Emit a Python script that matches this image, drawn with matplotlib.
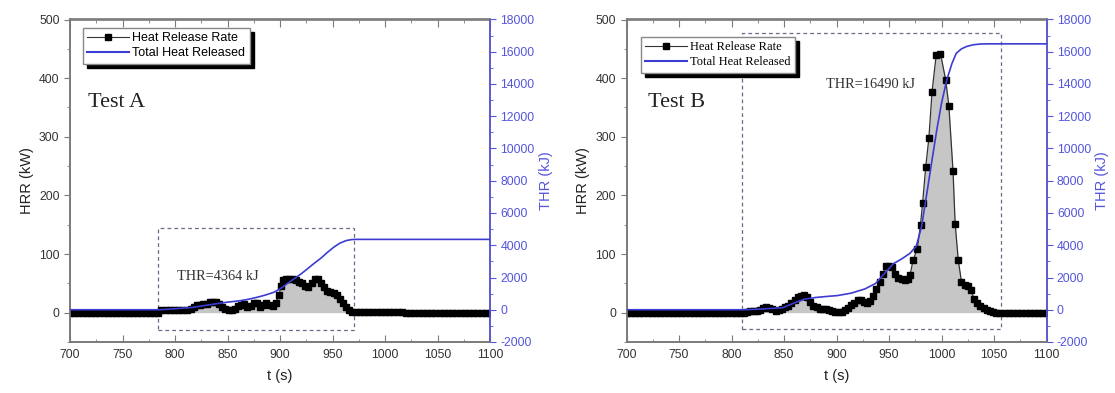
import matplotlib
matplotlib.use('Agg')
import matplotlib.pyplot as plt
from matplotlib.patches import Rectangle
from matplotlib.lines import Line2D
from matplotlib.ticker import MultipleLocator

plt.rcParams['font.family'] = ['Liberation Sans', 'DejaVu Sans']
plt.rcParams['axes.unicode_minus'] = False

# ---- Test A ----
tA = [700, 704, 708, 712, 716, 720, 724, 728, 732, 736, 740, 744, 748, 752, 756, 760,
      764, 768, 772, 776, 780, 784, 787, 791, 795, 799, 803, 807, 811, 815, 818, 821,
      824, 827, 830, 833, 836, 839, 842, 845, 848, 851, 854, 857, 860, 863, 866, 869,
      872, 875, 878, 881, 884, 887, 890, 893, 896, 899, 901, 903, 906, 909, 912, 915,
      918, 921, 924, 927, 930, 933, 936, 939, 942, 945, 948, 951, 954, 957, 960, 963,
      966, 969, 972, 976, 980, 984, 988, 992, 996, 1000, 1004, 1008, 1012, 1016, 1020,
      1024, 1028, 1032, 1036, 1040, 1044, 1048, 1052, 1056, 1060, 1064, 1068, 1072,
      1076, 1080, 1084, 1088, 1092, 1096, 1100]
hrrA = [0, 0, 0, 0, 0, 0, 0, 0, 0, 0, 0, 0, 0, 0, 0, 0,
        0, 0, 0, 0, 0, 0, 5, 5, 5, 4, 5, 5, 4, 6, 10, 13,
        13, 14, 15, 19, 18, 19, 14, 9, 6, 5, 4, 6, 11, 13, 14, 10,
        12, 16, 17, 10, 13, 16, 13, 12, 17, 30, 45, 55, 58, 58, 57, 56,
        53, 51, 46, 44, 50, 57, 57, 50, 43, 37, 35, 34, 30, 24, 16, 10,
        5, 1, 2, 2, 2, 2, 2, 2, 1, 1, 1, 1, 1, 1, 0,
        0, 0, 0, 0, 0, 0, 0, 0, 0, 0, 0, 0, 0,
        0, 0, 0, 0, 0, 0, 0]
thr_tA = [700, 785, 800, 817, 830, 840, 850, 862, 870, 878, 886, 894, 900, 906, 913,
          920, 926, 932, 939, 945, 951, 957, 963, 968, 972, 1100]
thrA = [0, 0, 60, 150, 280, 380, 470, 560, 650, 770, 910, 1080, 1290, 1580, 1900,
        2220, 2530, 2850, 3200, 3550, 3870, 4130, 4290, 4350, 4364, 4364]

# ---- Test B ----
tB = [700, 704, 708, 712, 716, 720, 724, 728, 732, 736, 740, 744, 748, 752, 756, 760,
      764, 768, 772, 776, 780, 784, 788, 792, 796, 800, 804, 808, 812, 815, 818, 821,
      824, 827, 830, 833, 836, 839, 842, 845, 848, 851, 854, 857, 860, 863, 866, 869,
      872, 875, 878, 881, 884, 887, 890, 893, 896, 899, 902, 905, 908, 911, 914, 917,
      920, 923, 926, 929, 932, 935, 938, 941, 944, 947, 950, 953, 956, 959, 962, 965,
      968, 970, 973, 977, 980, 982, 985, 988, 991, 995, 999, 1004, 1007, 1011, 1013,
      1016, 1019, 1022, 1025, 1028, 1031, 1034, 1037, 1040, 1043, 1046, 1049, 1052,
      1056, 1060, 1064, 1068, 1072, 1076, 1080, 1084, 1088, 1092, 1096, 1100]
hrrB = [0, 0, 0, 0, 0, 0, 0, 0, 0, 0, 0, 0, 0, 0, 0, 0,
        0, 0, 0, 0, 0, 0, 0, 0, 0, 0, 0, 0, 0, 2, 3, 3,
        3, 4, 8, 9, 8, 6, 3, 4, 6, 9, 12, 17, 22, 26, 29, 30,
        26, 19, 12, 9, 7, 7, 6, 5, 3, 2, 1, 2, 4, 8, 13, 17,
        21, 21, 18, 17, 20, 28, 40, 52, 66, 79, 80, 78, 66, 60, 58, 56,
        58, 64, 90, 109, 150, 187, 249, 298, 377, 440, 442, 397, 353, 241, 152,
        89, 53, 48, 45, 38, 24, 17, 12, 8, 5, 3, 1, 0,
        0, 0, 0, 0, 0, 0, 0, 0, 0, 0, 0, 0]
thr_tB = [700, 810, 820, 830, 840, 849, 859, 869, 880, 890, 901, 914, 927, 937, 945,
          954, 962, 970, 976, 981, 986, 991, 995.5, 1000, 1005, 1010, 1014, 1019,
          1024, 1030, 1037, 1045, 1100]
thrB = [0, 0, 20, 50, 90, 130, 400, 650, 760, 820, 880, 1030, 1290, 1620, 2200,
        2850, 3150, 3500, 3950, 5150, 7200, 9300, 11150, 12800, 14250, 15280, 15900, 16180,
        16330, 16430, 16480, 16490, 16490]

blue = '#3c3cd2'
axis_blue = '#5555dd'
spine_gray = '#7a7a7a'

fig = plt.figure(figsize=(11.15, 3.93), dpi=100)

panels = [
    dict(t=tA, hrr=hrrA, tt=thr_tA, thr=thrA, left=70 / 1115, name='Test A',
         note='THR=4364 kJ', note_xy=(802, 61), name_xy=(717, 358),
         box=(784, -29, 970.5 - 784, 144 + 29), leg_xy=(0.031, 0.974),
         leg_font='Liberation Sans', leg_size=9),
    dict(t=tB, hrr=hrrB, tt=thr_tB, thr=thrB, left=626.5 / 1115, name='Test B',
         note='THR=16490 kJ', note_xy=(890, 389), name_xy=(720, 358),
         box=(810, -28, 1057 - 810, 477 + 28), leg_xy=(0.0345, 0.946),
         leg_font='Liberation Serif', leg_size=9),
]

for p in panels:
    ax = fig.add_axes([p['left'], 1 - 342 / 393, 420 / 1115, 322.5 / 393])
    ax2 = ax.twinx()

    ax.fill_between(p['t'], p['hrr'], 0, color='#c6c6c6', lw=0, zorder=1)
    ax.plot(p['t'], p['hrr'], color='#333333', lw=0.9, marker='s', ms=4.3,
            mfc='black', mec='black', zorder=3)
    ax2.plot(p['tt'], p['thr'], color=blue, lw=1.2, zorder=4)

    bx, by, bw, bh = p['box']
    ax.add_patch(Rectangle((bx, by), bw, bh, fill=False, ec='#6a6a8a', lw=0.9,
                           ls=(0, (3, 2.5)), zorder=2))
    ax.text(p['name_xy'][0], p['name_xy'][1], p['name'], family='Liberation Serif',
            fontsize=16, va='center', ha='left', color='#222222')
    ax.text(p['note_xy'][0], p['note_xy'][1], p['note'], family='Liberation Serif',
            fontsize=10.4, va='center', ha='left', color='#333333')

    ax.set_xlim(700, 1100)
    ax.set_ylim(-50, 500)
    ax2.set_ylim(-2000, 18000)
    ax.xaxis.set_major_locator(MultipleLocator(50))
    ax.xaxis.set_minor_locator(MultipleLocator(25))
    ax.yaxis.set_major_locator(MultipleLocator(100))
    ax.yaxis.set_minor_locator(MultipleLocator(50))
    ax2.yaxis.set_major_locator(MultipleLocator(2000))
    ax2.yaxis.set_minor_locator(MultipleLocator(1000))
    ax.set_yticks(range(0, 501, 100))

    ax.tick_params(axis='x', which='both', direction='in', top=True, labelsize=8.8,
                   colors='#333333', pad=5)
    ax.tick_params(axis='x', which='major', length=5, color=spine_gray)
    ax.tick_params(axis='x', which='minor', length=2.5, color=spine_gray)
    ax.tick_params(axis='y', which='both', direction='out', labelsize=8.8,
                   colors='#333333', right=False)
    ax.tick_params(axis='y', which='major', length=4, color=spine_gray)
    ax.tick_params(axis='y', which='minor', length=2, color=spine_gray)
    ax2.tick_params(axis='y', which='both', direction='out', labelsize=8.8,
                    colors=axis_blue)
    ax2.tick_params(axis='y', which='major', length=4)
    ax2.tick_params(axis='y', which='minor', length=2)

    for a in (ax, ax2):
        for s in a.spines.values():
            s.set_color(spine_gray)
            s.set_linewidth(1.2)
    ax2.spines['right'].set_color(axis_blue)

    ax.set_xlabel('t (s)', fontsize=10.5, color='#222222', labelpad=6)
    ax.set_ylabel('HRR (kW)', fontsize=10.5, color='#222222', labelpad=4)
    ax2.set_ylabel('THR (kJ)', fontsize=10.5, color=axis_blue, labelpad=3)

    handles = [Line2D([], [], color='#333333', lw=0.8, marker='s', ms=3.8,
                      mfc='black', mec='black'),
               Line2D([], [], color=blue, lw=1.5)]
    leg = ax2.legend(handles, ['Heat Release Rate', 'Total Heat Released'],
                     loc='upper left', bbox_to_anchor=p['leg_xy'], numpoints=1,
                     fancybox=False, framealpha=1, edgecolor='#888888',
                     prop={'family': p['leg_font'], 'size': p['leg_size']},
                     handlelength=3.3, handletextpad=0.3, borderpad=0.35,
                     labelspacing=0.25, borderaxespad=0,
                     shadow={'ox': 3, 'oy': -3, 'color': 'black', 'alpha': 1})
    leg.get_frame().set_linewidth(1.0)

fig.savefig('out.png', dpi=100)
